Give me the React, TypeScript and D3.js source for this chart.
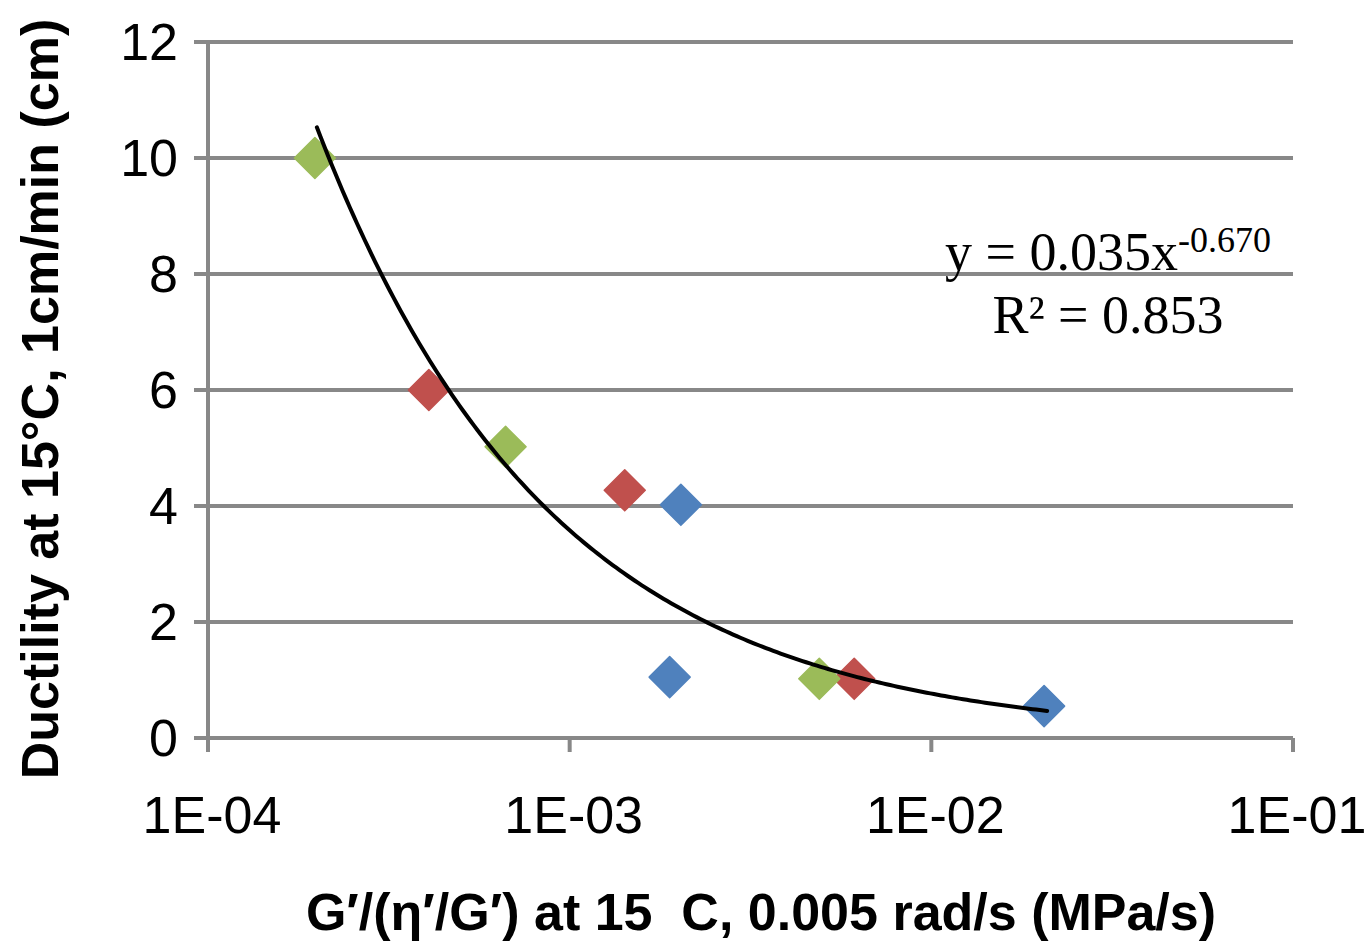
import React from "react";
import * as d3 from "d3";

const W = 1365;
const H = 943;

// Data
const blueX = [2.03e-3, 1.89e-3, 2.05e-2];
const blueY = [4.02, 1.05, 0.55];
const redX = [4.08e-4, 1.42e-3, 6.12e-3];
const redY = [6.0, 4.27, 1.02];
const greenX = [1.975e-4, 6.65e-4, 4.9e-3];
const greenY = [10.0, 5.02, 1.02];

const xTicks = [1e-4, 1e-3, 1e-2, 1e-1];
const xTickLabels = ["1E-04", "1E-03", "1E-02", "1E-01"];
const yTicks = [0, 2, 4, 6, 8, 10, 12];

// Power trendline y = a * x^b
const trendA = 0.035;
const trendB = -0.67;
const trendRange = [2.0e-4, 2.09e-2];

const eqText = "y = 0.035x";
const eqExp = "-0.670";
const r2Text = "R² = 0.853";
const xTitle = "G′/(η′/G′) at 15  C, 0.005 rad/s (MPa/s)";
const yTitle = "Ductility at 15°C, 1cm/min (cm)";

const series = [
  { name: "blue", color: "#4F81BD", xs: blueX, ys: blueY },
  { name: "red", color: "#C0504D", xs: redX, ys: redY },
  { name: "green", color: "#9BBB59", xs: greenX, ys: greenY },
];

export default function App() {
  const left = 208, right = 1293, top = 42, bottom = 738;
  const x = d3.scaleLog().domain([1e-4, 1e-1]).range([left, right]);
  const y = d3.scaleLinear().domain([0, 12]).range([bottom, top]);
  const grid = "#888888";

  const samples = d3.range(0, 201).map((i) => {
    const lx = Math.log10(trendRange[0]) + (i / 200) * (Math.log10(trendRange[1]) - Math.log10(trendRange[0]));
    const xv = Math.pow(10, lx);
    return [xv, trendA * Math.pow(xv, trendB)] as [number, number];
  });
  const line = d3
    .line<[number, number]>()
    .x((d) => x(d[0]))
    .y((d) => y(d[1]));

  const hw = 20.5, hh = 20.5;
  const diamond = (cx: number, cy: number) =>
    `M${cx},${cy - hh}L${cx + hw},${cy}L${cx},${cy + hh}L${cx - hw},${cy}Z`;

  return (
    <svg
      width={W}
      height={H}
      style={{ position: "absolute", left: 0, top: 0, background: "#fff" }}
      fontFamily="'Liberation Sans', Arial, sans-serif"
    >
      <rect x={0} y={0} width={W} height={H} fill="#fff" />
      {yTicks.map((t) => (
        <line key={"g" + t} x1={left - 14} x2={right} y1={y(t)} y2={y(t)} stroke={grid} strokeWidth={4} />
      ))}
      <line x1={left} x2={left} y1={top} y2={bottom + 14} stroke={grid} strokeWidth={4} />
      {xTicks.map((t) => (
        <line key={"xt" + t} x1={x(t)} x2={x(t)} y1={bottom} y2={bottom + 14} stroke={grid} strokeWidth={4} />
      ))}
      {yTicks.map((t) => (
        <text key={"yl" + t} x={178} y={y(t) + 18} textAnchor="end" fontSize={52} fill="#000">
          {t}
        </text>
      ))}
      {xTicks.map((t, i) => (
        <text key={"xl" + t} x={x(t) + 4} y={833} textAnchor="middle" fontSize={52} fill="#000">
          {xTickLabels[i]}
        </text>
      ))}
      {series.map((s) =>
        s.xs.map((xv, i) => (
          <path
            key={s.name + i}
            d={diamond(x(xv), y(s.ys[i]))}
            fill={s.color}
            stroke={s.color}
            strokeWidth={1.5}
            strokeLinejoin="round"
          />
        ))
      )}
      <path d={line(samples) || ""} fill="none" stroke="#000" strokeWidth={4} strokeLinecap="round" />
      <text x={1108} y={270} textAnchor="middle" fontFamily="'Liberation Serif', 'Times New Roman', serif" fontSize={54} fill="#000">
        {eqText}
        <tspan fontSize={36} dy={-18}>{eqExp}</tspan>
      </text>
      <text x={1108} y={333} textAnchor="middle" fontFamily="'Liberation Serif', 'Times New Roman', serif" fontSize={54} fill="#000">
        {r2Text}
      </text>
      <text x={761} y={930} textAnchor="middle" fontSize={52} fontWeight="bold" fill="#000" style={{ whiteSpace: "pre" }}>
        {xTitle}
      </text>
      <text
        transform={`translate(58,${399}) rotate(-90)`}
        textAnchor="middle"
        fontSize={52}
        fontWeight="bold"
        fill="#000"
      >
        {yTitle}
      </text>
    </svg>
  );
}
